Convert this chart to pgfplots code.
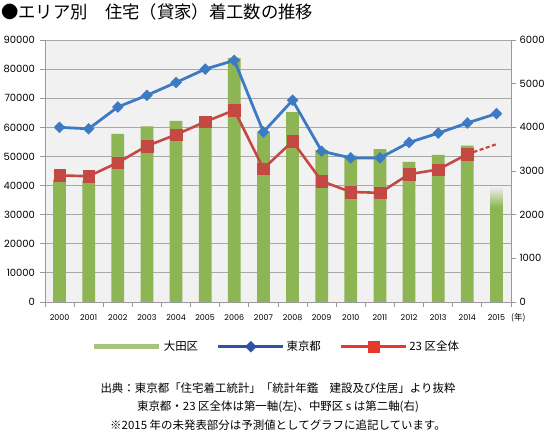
\documentclass[border=0pt]{standalone}
\usepackage{pgfplots}
\pgfplotsset{compat=1.18}
\usepackage{fontspec}
\setmainfont{Poppins}
\newfontfamily\jp{Noto Sans CJK JP}

\definecolor{barg}{HTML}{8DB553}
\definecolor{bgc}{HTML}{F1F1F1}
\definecolor{gridc}{HTML}{A8A8A8}
\definecolor{axc}{HTML}{9A9A9A}
\definecolor{tokyo}{HTML}{3D7AC4}
\definecolor{ku}{HTML}{C44943}
\definecolor{lgreen}{HTML}{A6C47E}
\definecolor{lblue}{HTML}{2C53A6}
\definecolor{lred}{HTML}{E5392B}
% 2015 bar fades out towards the top (forecast part)
\pgfdeclareverticalshading{fadebar}{100bp}{color(0bp)=(barg); color(25bp)=(barg); color(66bp)=(barg); color(75bp)=(bgc); color(100bp)=(bgc)}

\pgfplotsset{
  base/.style={
    width=466bp, height=262bp, scale only axis,
    at={(45bp,133bp)}, anchor=south west,
    xmin=1999.5, xmax=2015.5,
    /pgf/number format/assume math mode=true,
    /pgf/number format/1000 sep={},
    scaled y ticks=false,
    tick align=outside, major tick length=5bp,
    axis line style={axc, line width=0.9bp},
    tick style={axc, line width=0.9bp},
    y tick label style={font=\fontsize{10}{12}\selectfont},
    x tick label style={font=\fontsize{8}{9}\selectfont},
  },
}

\begin{document}
\begin{tikzpicture}
\useasboundingbox (0bp,0bp) rectangle (550bp,435bp);

% background, grid and left axis
\begin{axis}[base,
  ymin=0, ymax=90000,
  ytick={0,10000,20000,30000,40000,50000,60000,70000,80000,90000},
  y tick label style={xshift=-1.5bp},
  axis background/.style={fill=bgc},
  ymajorgrids, grid style={gridc, line width=0.9bp},
  axis x line*=bottom, axis y line*=left,
  xtick={2000,2001,2002,2003,2004,2005,2006,2007,2008,2009,2010,2011,2012,2013,2014,2015},
  xtick style={draw=none},
  x tick label style={yshift=-4bp},
]
\addplot[draw=none] coordinates {(2000,0)};
\end{axis}

% bars on the right axis
\begin{axis}[base,
  ymin=0, ymax=6000,
  ytick={0,1000,2000,3000,4000,5000,6000},
  axis y line*=right, axis x line*=bottom,
  xtick={1999.5,2000.5,2001.5,2002.5,2003.5,2004.5,2005.5,2006.5,2007.5,2008.5,2009.5,2010.5,2011.5,2012.5,2013.5,2014.5,2015.5},
  xticklabels={},
  ybar, bar width=12.7bp,
]
\addplot[fill=barg, draw=none, bar shift=0pt] coordinates {
  (2000,2800) (2001,2780) (2002,3850) (2003,4020) (2004,4150)
  (2005,4080) (2006,5590) (2007,3900) (2008,4350) (2009,3480)
  (2010,3350) (2011,3500) (2012,3210) (2013,3370) (2014,3580)
};
\addplot[draw=none, shading=fadebar, bar shift=0pt] coordinates {(2015,2650)};
\end{axis}

% lines on the left axis, legend
\begin{axis}[base,
  ymin=0, ymax=90000, hide axis,
  legend columns=3,
  legend style={at={(0.496,-0.1706)}, anchor=center, draw=none, fill=none,
    font=\jp\fontsize{11.5}{13}\selectfont,
    /tikz/every even column/.append style={column sep=17bp}},
]
\addplot[forget plot, tokyo, line width=2.8bp, mark=square*, mark size=3.9bp,
  mark options={rotate=45, solid, fill=tokyo, line width=0.3bp}] coordinates {
  (2000,60000) (2001,59500) (2002,67000) (2003,71000) (2004,75400)
  (2005,80000) (2006,83000) (2007,58400) (2008,69300) (2009,51800)
  (2010,49500) (2011,49500) (2012,54800) (2013,58000) (2014,61500)
  (2015,64700)
};
\addplot[forget plot, ku, line width=2.2bp, dash pattern=on 4bp off 2.5bp] coordinates {
  (2014,50800) (2015,54200)
};
\addplot[forget plot, ku, line width=2.6bp, mark=square*, mark size=5.8bp,
  mark options={solid, fill=ku, line width=0.3bp}] coordinates {
  (2000,43500) (2001,43200) (2002,47900) (2003,53600) (2004,57500)
  (2005,61900) (2006,65900) (2007,45800) (2008,55200) (2009,41500)
  (2010,37800) (2011,37500) (2012,43900) (2013,45500) (2014,50800)
};
\addlegendimage{legend image code/.code={\draw[lgreen, line width=5.5bp] (0bp,0bp) -- (65bp,0bp);}}
\addlegendentry{大田区}
\addlegendimage{legend image code/.code={\draw[lblue, line width=2.4bp] (0bp,0bp) -- (65bp,0bp);
  \fill[lblue] (32.5bp,5.5bp) -- (38bp,0bp) -- (32.5bp,-5.5bp) -- (27bp,0bp) -- cycle;}}
\addlegendentry{東京都}
\addlegendimage{legend image code/.code={\draw[lred, line width=2.4bp] (0bp,0bp) -- (65bp,0bp);
  \fill[lred] (27bp,-5.5bp) rectangle (38bp,5.5bp);}}
\addlegendentry{23 区全体}
\end{axis}

\node[anchor=base west, inner sep=0pt, font=\jp\fontsize{17.4}{20}\selectfont] at (1bp,416.5bp) {●エリア別　住宅（貸家）着工数の推移};
\node[anchor=west, inner sep=0pt, font=\jp\fontsize{8.5}{10}\selectfont] at (511bp,117bp) {(年)};
\node[inner sep=0pt, font=\jp\fontsize{11.5}{13}\selectfont] at (278bp,47bp) {出典：東京都「住宅着工統計」「統計年鑑　建設及び住居」より抜粋};
\node[inner sep=0pt, font=\jp\fontsize{11.5}{13}\selectfont] at (278bp,28bp) {東京都・23 区全体は第一軸(左)、中野区 s は第二軸(右)};
\node[inner sep=0pt, font=\jp\fontsize{11.5}{13}\selectfont] at (278bp,10bp) {※2015 年の未発表部分は予測値としてグラフに追記しています。};
\end{tikzpicture}
\end{document}
